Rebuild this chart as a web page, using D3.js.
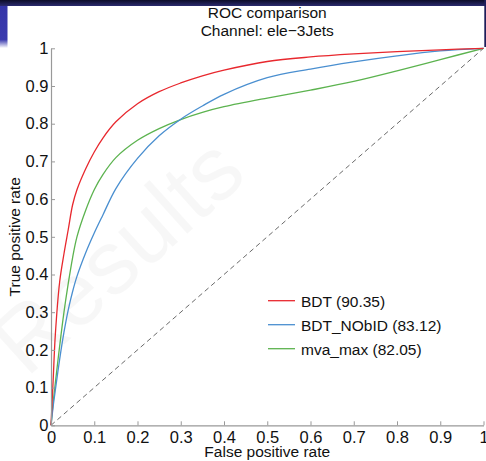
<!DOCTYPE html>
<html>
<head>
<meta charset="utf-8">
<script src="https://cdn.jsdelivr.net/npm/d3@7"></script>
<style>
  html, body { margin: 0; padding: 0; background: #fff; }
  #chart { width: 486px; height: 461px; }
  text { font-family: "Liberation Sans", Arial, sans-serif; fill: #111; }
</style>
</head>
<body>
<div id="chart"></div>
<script>
'use strict';

// false positive rate grid, shared by all three curves
var fpr = [0, 0.005, 0.01, 0.02, 0.03, 0.04, 0.05, 0.06, 0.08, 0.1, 0.12, 0.15, 0.2, 0.25, 0.3, 0.35, 0.4, 0.5, 0.6, 0.7, 0.8, 0.9, 1];

var tprBDT     = [0, 0.12, 0.24, 0.38, 0.455, 0.52, 0.585, 0.625, 0.68, 0.725, 0.762, 0.805, 0.853, 0.885, 0.908, 0.927, 0.942, 0.965, 0.977, 0.985, 0.991, 0.996, 1];
var tprNObID   = [0, 0.05, 0.093, 0.175, 0.247, 0.307, 0.355, 0.395, 0.457, 0.51, 0.558, 0.628, 0.708, 0.768, 0.812, 0.847, 0.878, 0.922, 0.945, 0.964, 0.98, 0.993, 1];
var tprMvaMax  = [0, 0.06, 0.112, 0.21, 0.30, 0.377, 0.445, 0.5, 0.57, 0.625, 0.665, 0.71, 0.756, 0.787, 0.811, 0.83, 0.845, 0.868, 0.889, 0.912, 0.94, 0.97, 1];

var seriesNames = ['BDT (90.35)', 'BDT_NObID (83.12)', 'mva_max (82.05)'];
var seriesColors = ['#e8282e', '#4a8fd0', '#5cb34f'];
var tickValues = [0, 0.1, 0.2, 0.3, 0.4, 0.5, 0.6, 0.7, 0.8, 0.9, 1];

var W = 486, H = 461;
var margin = {left: 51, right: 2.5, top: 48.3, bottom: 35.7};

var svg = d3.select('#chart').append('svg')
    .attr('width', W)
    .attr('height', H);

// slide decoration: dark band on top, blue block left, dark strip right
var defs = svg.append('defs');
var gTop = defs.append('linearGradient').attr('id', 'gTop').attr('x1', 0).attr('x2', 0).attr('y1', 0).attr('y2', 1);
gTop.append('stop').attr('offset', 0).attr('stop-color', '#0c0c28');
gTop.append('stop').attr('offset', 1).attr('stop-color', '#2a2a6e');
var gLeft = defs.append('linearGradient').attr('id', 'gLeft').attr('x1', 0).attr('x2', 0).attr('y1', 0).attr('y2', 1);
gLeft.append('stop').attr('offset', 0).attr('stop-color', '#3434a8');
gLeft.append('stop').attr('offset', 0.8).attr('stop-color', '#3a3aae');
gLeft.append('stop').attr('offset', 1).attr('stop-color', '#ffffff');

svg.append('rect').attr('x', 0).attr('y', 0).attr('width', W).attr('height', 6).attr('fill', 'url(#gTop)');
svg.append('rect').attr('x', 0).attr('y', 6).attr('width', 7.5).attr('height', 42).attr('fill', 'url(#gLeft)');
svg.append('rect').attr('x', 484.3).attr('y', 0).attr('width', 2).attr('height', 47).attr('fill', '#1e1e5a');

// faint watermark
svg.append('text')
    .attr('transform', 'translate(138,278) rotate(-42)')
    .attr('text-anchor', 'middle')
    .style('font-size', '90px')
    .style('fill', '#000')
    .style('fill-opacity', 0.03)
    .text('Results');

var x = d3.scaleLinear().domain([0, 1]).range([margin.left, W - margin.right]);
var y = d3.scaleLinear().domain([0, 1]).range([H - margin.bottom, margin.top]);

// diagonal reference
svg.append('line')
    .attr('x1', x(0)).attr('y1', y(0))
    .attr('x2', x(1)).attr('y2', y(1))
    .attr('stroke', '#444')
    .attr('stroke-width', 0.8)
    .attr('stroke-dasharray', '5,3.5');

// centripetal catmull-rom keeps the curves smooth through uneven spacing
var line = d3.line()
    .x(function(d){ return x(d[0]); })
    .y(function(d){ return y(d[1]); })
    .curve(d3.curveCatmullRom.alpha(0.5));

var series = [tprBDT, tprNObID, tprMvaMax];
// draw green first, red on top
[2, 1, 0].forEach(function(i){
  svg.append('path')
      .datum(fpr.map(function(f, k){ return [f, series[i][k]]; }))
      .attr('fill', 'none')
      .attr('stroke', seriesColors[i])
      .attr('stroke-width', 1.3)
      .attr('d', line);
});

// axes
var fmt = function(d){ return d3.format('~g')(d); };
var xAxis = d3.axisBottom(x).tickValues(tickValues).tickSizeInner(-4).tickSizeOuter(0).tickFormat(fmt);
var yAxis = d3.axisLeft(y).tickValues(tickValues).tickSizeInner(-4).tickSizeOuter(0).tickPadding(2.5).tickFormat(fmt);

var gx = svg.append('g').attr('transform', 'translate(0,' + y(0) + ')').call(xAxis);
var gy = svg.append('g').attr('transform', 'translate(' + x(0) + ',0)').call(yAxis);

[gx, gy].forEach(function(g){
  g.select('.domain').attr('stroke', '#999').attr('stroke-width', 1.2);
  g.selectAll('.tick line').attr('stroke', '#999');
  g.selectAll('.tick text')
      .style('font-family', '"Liberation Sans", Arial, sans-serif')
      .style('font-size', '16.5px')
      .attr('fill', '#111');
});
gx.selectAll('.tick text').attr('y', 17.7).attr('dy', 0);

// titles
svg.append('text')
    .attr('x', x(0.5)).attr('y', 18.3)
    .attr('text-anchor', 'middle')
    .style('font-size', '15.5px')
    .text('ROC comparison');
svg.append('text')
    .attr('x', x(0.5)).attr('y', 36)
    .attr('text-anchor', 'middle')
    .style('font-size', '15.5px')
    .text('Channel: ele\u22123Jets');

svg.append('text')
    .attr('x', x(0.5)).attr('y', 457)
    .attr('text-anchor', 'middle')
    .style('font-size', '15.5px')
    .text('False positive rate');

svg.append('text')
    .attr('transform', 'translate(19.5,' + ((y(0) + y(1)) / 2) + ') rotate(-90)')
    .attr('text-anchor', 'middle')
    .style('font-size', '15.5px')
    .text('True positive rate');

// legend
var legend = svg.append('g').attr('transform', 'translate(268,300.7)');
seriesNames.forEach(function(name, i){
  var row = legend.append('g').attr('transform', 'translate(0,' + (i * 24) + ')');
  row.append('line')
      .attr('x1', 0).attr('x2', 27)
      .attr('stroke', seriesColors[i])
      .attr('stroke-width', 1.3);
  row.append('text')
      .attr('x', 33).attr('y', 6)
      .style('font-size', '15.5px')
      .text(name);
});
</script>
</body>
</html>
